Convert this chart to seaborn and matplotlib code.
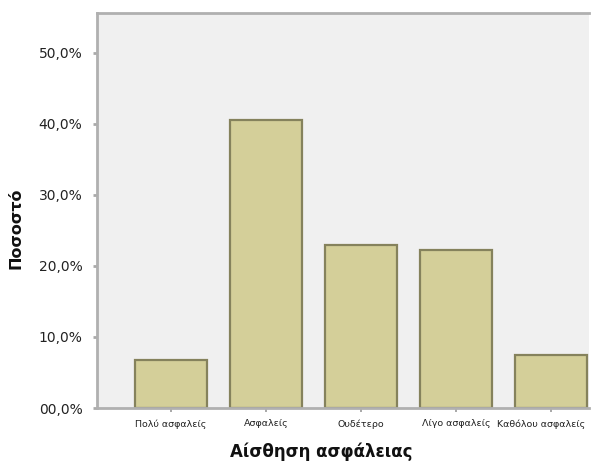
import matplotlib
matplotlib.use("Agg")
import matplotlib.pyplot as plt
import seaborn as sns
import pandas as pd
from matplotlib.ticker import FuncFormatter
from matplotlib.transforms import ScaledTranslation

categories = ["Πολύ ασφαλείς", "Ασφαλείς", "Ουδέτερο", "Λίγο ασφαλείς", "Καθόλου ασφαλείς"]
percentages = [6.8, 40.5, 22.9, 22.3, 7.5]
y_ticks = [0, 10, 20, 30, 40, 50]
x_label = "Αίσθηση ασφάλειας"
y_label = "Ποσοστό"

df = pd.DataFrame({"cat": categories, "pct": percentages})

sns.set_theme(style="white")
plt.rcParams["font.family"] = ["DejaVu Sans"]

fig = plt.figure(figsize=(5.94, 4.62), dpi=100)
ax = fig.add_axes([97 / 594, 1 - 408 / 462, (589 - 97) / 594, (408 - 13) / 462])
ax.set_facecolor("#f0f0f0")

sns.barplot(data=df, x="cat", y="pct", ax=ax, color="#d4cf99",
            edgecolor="#85825c", linewidth=1.6, width=0.76, saturation=1)

ax.set_xlim(-0.78, 4.4)
ax.set_ylim(0, 55.6)
ax.set_yticks(y_ticks)
ax.yaxis.set_major_formatter(FuncFormatter(lambda v, p: ("00,0%" if v == 0 else f"{v:.1f}%".replace(".", ","))))
ax.tick_params(axis="y", labelsize=10, colors="#aaaaaa", labelcolor="#222222", length=3, width=2, pad=7.5, left=True)
ax.tick_params(axis="x", labelsize=6.8, colors="#999999", labelcolor="#222222", length=3, width=1.2, pad=5, bottom=True)

last = ax.get_xticklabels()[-1]
last.set_transform(last.get_transform() + ScaledTranslation(-7 / 72, 0, fig.dpi_scale_trans))

for side in ["left", "bottom", "top"]:
    ax.spines[side].set_visible(True)
    ax.spines[side].set_color("#b0b0b0")
    ax.spines[side].set_linewidth(2)
ax.spines["right"].set_visible(False)

ax.set_xlabel(x_label, fontsize=12, fontweight="bold", color="#111111")
ax.set_ylabel(y_label, fontsize=11.5, fontweight="bold", color="#111111")
ax.xaxis.set_label_coords(0.455, -0.088)
ax.yaxis.set_label_coords(-0.15, 0.455)

fig.savefig("out.png", dpi=100, facecolor="white")
